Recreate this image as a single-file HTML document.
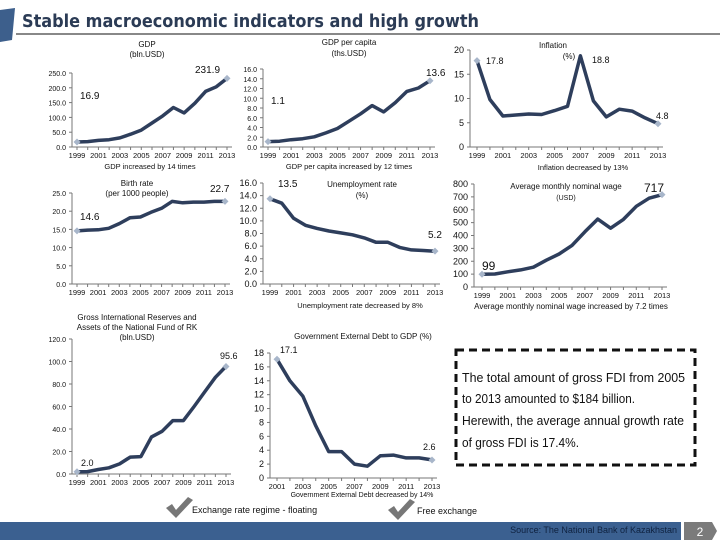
<!DOCTYPE html>
<html><head><meta charset="utf-8">
<style>
html,body{margin:0;padding:0;background:#fff;}
body{width:720px;height:540px;position:relative;overflow:hidden;font-family:"Liberation Sans",sans-serif;}
svg{position:absolute;left:0;top:0;}
</style></head>
<body>
<svg id="s" width="720" height="540" viewBox="0 0 720 540">
  <path d="M0 10 L15 8 L12 40 L0 42 Z" fill="#3d5f8c"/>
  <text x="22" y="27" font-size="18" font-weight="bold" fill="#2b3b55" font-family="DejaVu Sans, sans-serif" textLength="457" lengthAdjust="spacingAndGlyphs">Stable macroeconomic indicators and high growth</text>
  <line x1="16" y1="34" x2="720" y2="34" stroke="#111" stroke-width="1"/>
  <rect x="456" y="350" width="239" height="115" fill="none" stroke="#111" stroke-width="3" stroke-dasharray="8,5"/>
  <g font-size="12.5" fill="#111">
    <text x="462" y="382" textLength="223" lengthAdjust="spacingAndGlyphs">The total amount of gross FDI from 2005</text>
    <text x="462" y="403" textLength="173" lengthAdjust="spacingAndGlyphs">to 2013 amounted to $184 billion.</text>
    <text x="462" y="425" textLength="222" lengthAdjust="spacingAndGlyphs">Herewith, the average annual growth rate</text>
    <text x="462" y="447" textLength="117" lengthAdjust="spacingAndGlyphs">of gross FDI is 17.4%.</text>
  </g>
  <g><path d="M166 508 L172 504 L176 510 L188 497 L193 500 L176 518 Z" fill="#777"/></g>
  <text x="192" y="513" font-size="9" fill="#111">Exchange rate regime - floating</text>
  <g><path d="M388 510 L394 506 L398 512 L410 499 L415 502 L398 520 Z" fill="#777"/></g>
  <text x="417" y="514" font-size="9" fill="#111">Free exchange</text>
  <rect x="0" y="522" width="681" height="18" fill="#3b6090"/>
  <text x="677" y="533" font-size="9" fill="#0f2240" text-anchor="end">Source: The National Bank of Kazakhstan</text>
  <path d="M684 522 L712 522 L717 531 L712 540 L684 540 Z" fill="#7b7b7b"/>
  <text x="700" y="536" font-size="12" fill="#fff" text-anchor="middle">2</text>
</svg>
<script>
const years = [1999,2000,2001,2002,2003,2004,2005,2006,2007,2008,2009,2010,2011,2012,2013];
const debtYears = [2001,2002,2003,2004,2005,2006,2007,2008,2009,2010,2011,2012,2013];
const gdpValues = [16.9,18.3,22.2,24.6,30.8,43.2,57.1,81.0,104.9,133.4,115.3,148.0,188.0,203.5,231.9];
const gdpTicks = ["0.0","50.0","100.0","150.0","200.0","250.0"];
const gdpPcValues = [1.1,1.2,1.5,1.7,2.1,2.9,3.8,5.3,6.8,8.5,7.2,9.1,11.4,12.1,13.6];
const gdpPcTicks = ["0.0","2.0","4.0","6.0","8.0","10.0","12.0","14.0","16.0"];
const inflationValues = [17.8,9.8,6.4,6.6,6.8,6.7,7.5,8.4,18.8,9.5,6.2,7.8,7.4,6.0,4.8];
const inflationTicks = ["0","5","10","15","20"];
const birthValues = [14.6,14.8,14.9,15.3,16.6,18.2,18.4,19.7,20.8,22.7,22.3,22.5,22.5,22.7,22.7];
const birthTicks = ["0.0","5.0","10.0","15.0","20.0","25.0"];
const unempValues = [13.5,12.8,10.4,9.3,8.8,8.4,8.1,7.8,7.3,6.6,6.6,5.8,5.4,5.3,5.2];
const unempTicks = ["0.0","2.0","4.0","6.0","8.0","10.0","12.0","14.0","16.0"];
const wageValues = [99,101,118,133,154,208,256,323,429,527,457,525,627,690,717];
const wageTicks = ["0","100","200","300","400","500","600","700","800"];
const reserveValues = [2.0,2.1,4.0,5.5,9.0,15.0,15.5,33.0,38.0,47.5,47.5,60.0,73.0,86.0,95.6];
const reserveTicks = ["0.0","20.0","40.0","60.0","80.0","100.0","120.0"];
const debtValues = [17.1,14.0,11.8,7.5,3.8,3.8,2.0,1.7,3.2,3.3,2.9,2.9,2.6];
const debtTicks = ["0","2","4","6","8","10","12","14","16","18"];
const gdpLabels = ["16.9","231.9"];
const gdpPcLabels = ["1.1","13.6"];
const inflationLabels = ["17.8","18.8","4.8"];
const birthLabels = ["14.6","22.7"];
const unempLabels = ["13.5","5.2"];
const wageLabels = ["99","717"];
const reserveLabels = ["2.0","95.6"];
const debtLabels = ["17.1","2.6"];

const NS = "http://www.w3.org/2000/svg";
const svg = document.getElementById('s');
function mk(tag, attrs, parent){const e=document.createElementNS(NS,tag);for(const k in attrs)e.setAttribute(k,attrs[k]);(parent||svg).appendChild(e);return e;}
function txt(x,y,s,size,anchor,parent){const t=mk('text',{x:x,y:y,'font-size':size,fill:'#111','text-anchor':anchor||'middle'},parent);t.textContent=s;return t;}

function chart(name, xs, vals, ticks, ymax, box, titles, labels, labelPos, foot, xStep, tickFont){
  const g=mk('g',{});
  
  
  const n=xs.length;
  const xScale=i=>box.x0+(box.x1-box.x0)*i/(n-1);
  const yScale=v=>box.yb-(box.yb-box.yt)*v/ymax;
  const ax=mk('path',{d:`M${box.ax} ${box.yt} L${box.ax} ${box.yb} L${box.x1+5} ${box.yb}`,stroke:'#777',fill:'none','stroke-width':1},g);
  
  
  ticks.forEach((t,i)=>{
    const v=ymax*i/(ticks.length-1), y=yScale(v);
    mk('line',{x1:box.ax-3,y1:y,x2:box.ax,y2:y,stroke:'#777'},g);
    const tl=txt(box.ax-6,y+3,t,tickFont,'end',g);
    
    
  });
  xs.forEach((yr,i)=>{
    const x=xScale(i);
    mk('line',{x1:x,y1:box.yb,x2:x,y2:box.yb+3,stroke:'#777'},g);
    if(i%xStep===0){
      const xl=txt(x,box.yb+11,String(yr),7.5,'middle',g);
      
      
    }
  });
  const pts=vals.map((v,i)=>xScale(i).toFixed(1)+','+yScale(v).toFixed(1));
  const line=mk('polyline',{points:pts.join(' '),fill:'none',stroke:'#2e3e5c','stroke-width':3.5,'stroke-linejoin':'round'},g);
  
  
  [0,n-1].forEach(i=>{
    const x=xScale(i),y=yScale(vals[i]);
    const m=mk('path',{d:`M${x-3.5} ${y} L${x} ${y-3.5} L${x+3.5} ${y} L${x} ${y+3.5} Z`,fill:'#a8b6ca'},g);
    
    
  });
  labels.forEach((l,i)=>{
    const p=labelPos[i];
    const t=txt(p[0],p[1],l,p[2]||10,'start',g);
    
    
  });
  titles.forEach(tt=>{
    const t=txt(tt[0],tt[1],tt[2],tt[3]||8,'middle',g);
    
    
  });
  if(foot){
    const f=txt(foot[0],foot[1],foot[2],foot[3]||7.5,'middle',g);
    
    
  }
}

chart('gdp',years,gdpValues,gdpTicks,250,{ax:72,x0:77,x1:227,yb:147,yt:73},
  [[147,47,'GDP'],[147,57,'(bln.USD)']],gdpLabels,[[80,99],[195,73]],[150,169,'GDP increased by 14 times'],2,7);
chart('gdp-per-capita',years,gdpPcValues,gdpPcTicks,16,{ax:263,x0:268,x1:430,yb:147,yt:69},
  [[349,45,'GDP per capita'],[349,56,'(ths.USD)']],gdpPcLabels,[[271,104],[426,76]],[349,169,'GDP per capita increased by 12 times'],2,7);
chart('inflation',years,inflationValues,inflationTicks,20,{ax:470,x0:477,x1:658,yb:147,yt:50},
  [[553,48,'Inflation'],[569,59,'(%)']],inflationLabels,[[486,64,9],[592,63,9],[656,119,9]],[583,170,'Inflation decreased by 13%'],2,9);
chart('birth-rate',years,birthValues,birthTicks,25,{ax:72,x0:77,x1:225,yb:284,yt:193},
  [[137,186,'Birth rate'],[137,196,'(per 1000 people)']],birthLabels,[[80,220],[210,192]],null,2,7);
chart('unemployment',years,unempValues,unempTicks,16,{ax:263,x0:270,x1:435,yb:284,yt:183},
  [[362,187,'Unemployment rate'],[362,198,'(%)']],unempLabels,[[278,187],[428,238]],[360,308,'Unemployment rate decreased by 8%'],2,9);
chart('wage',years,wageValues,wageTicks,800,{ax:474,x0:482,x1:662,yb:287,yt:184},
  [[566,189,'Average monthly nominal wage'],[566,200,'(USD)',7]],wageLabels,[[482,270,12],[644,192,12]],[571,309,'Average monthly nominal wage increased by 7.2 times',8],2,9);
chart('reserves',years,reserveValues,reserveTicks,120,{ax:72,x0:77,x1:226,yb:474,yt:339},
  [[137,320,'Gross International Reserves and'],[137,330,'Assets of the National Fund of RK'],[137,340,'(bln.USD)']],reserveLabels,[[81,466,9],[220,359,9]],null,2,7);
chart('external-debt',debtYears,debtValues,debtTicks,18,{ax:270,x0:277,x1:432,yb:478,yt:353},
  [[363,339,'Government External Debt to GDP (%)']],debtLabels,[[280,353,9],[423,450,9]],[362,497,'Government External Debt decreased by 14%',7],2,9);
</script>
</body></html>
